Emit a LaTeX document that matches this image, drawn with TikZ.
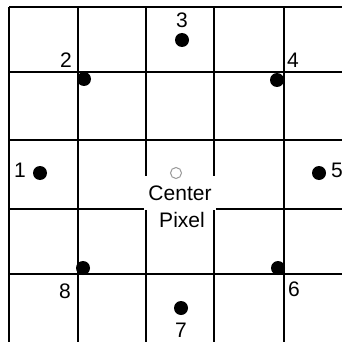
\documentclass[tikz,border=0pt]{standalone}
\usepackage{fontspec}
\setmainfont{Liberation Sans}
\begin{document}
\begin{tikzpicture}[x=1pt,y=-1pt,
  gridline/.style={line width=1.8pt,black},
  dot/.style={circle,fill=black,inner sep=0pt,minimum size=14pt},
  lbl/.style={inner sep=0pt,font=\fontsize{21}{25}\selectfont},
  hollow/.style={circle,draw=gray!80,line width=1pt,inner sep=0pt,minimum size=11pt}]
\useasboundingbox (0,0) rectangle (342,342);
\fill[white] (0,0) rectangle (342,342);
% grid
\foreach \x in {9,78,146,214,284} \draw[gridline] (\x,7) -- (\x,342);
\foreach \y in {7,72,140,209,274} \draw[gridline] (9,\y) -- (342,\y);
% center label
\node[lbl,fill=white,minimum width=72pt,minimum height=34pt] (ctr) at (180,193) {Center};
\node[lbl] (pix) at (182,220) {Pixel};
\node[hollow] (c) at (176,173) {};
% dots
\node[dot] (d1) at (40,173) {};
\node[dot] (d2) at (84,79) {};
\node[dot] (d3) at (182,40) {};
\node[dot] (d4) at (277,80) {};
\node[dot] (d5) at (319,173) {};
\node[dot] (d6) at (278,268) {};
\node[dot] (d7) at (181,308) {};
\node[dot] (d8) at (83,268) {};
% labels
\node[lbl] (l1) at (20,170) {1};
\node[lbl] (l2) at (66,60) {2};
\node[lbl] (l3) at (182,20) {3};
\node[lbl] (l4) at (293,60) {4};
\node[lbl] (l5) at (337,170) {5};
\node[lbl] (l6) at (294,289) {6};
\node[lbl] (l7) at (181,330) {7};
\node[lbl] (l8) at (65,291) {8};
\end{tikzpicture}
\end{document}
